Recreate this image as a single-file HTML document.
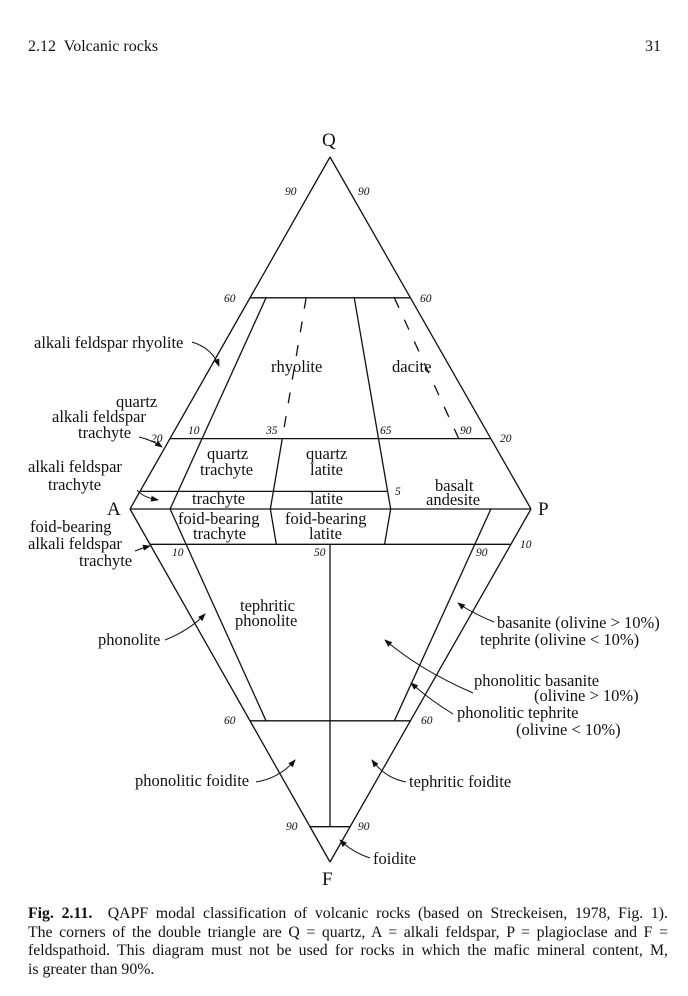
<!DOCTYPE html>
<html><head><meta charset="utf-8"><style>
html,body{margin:0;padding:0;background:#fff;}
body{width:688px;height:996px;position:relative;overflow:hidden;font-family:"Liberation Serif",serif;color:#111;}
.hd{position:absolute;top:38px;font-size:16px;}
.cap{position:absolute;left:28px;top:905px;width:640px;font-size:15.8px;line-height:18.7px;}
.cap div{text-align:justify;text-align-last:justify;white-space:nowrap;}
.cap div.last{text-align-last:left;}
svg text{font-family:"Liberation Serif",serif;}
</style></head><body>
<div class="hd" style="left:28px">2.12&nbsp; Volcanic rocks</div>
<div class="hd" style="right:27px">31</div>
<svg width="688" height="996" style="position:absolute;left:0;top:0">
<defs><marker id="ah" markerWidth="8" markerHeight="8" refX="7" refY="4" orient="auto"><path d="M0,1 L8,4 L0,7 z" fill="#111"/></marker></defs>
<g id="lines" stroke="#111" stroke-width="1.3" fill="none"></g>
<g id="labels" font-size="16.5" fill="#111"></g>
<g id="ticks" font-size="11.5" font-style="italic" fill="#111"></g>
<g id="arrows" stroke="#111" stroke-width="1" fill="none"></g>
</svg>
<div class="cap">
<div><b>Fig. 2.11.</b>&nbsp; QAPF modal classification of volcanic rocks (based on Streckeisen, 1978, Fig. 1).</div>
<div>The corners of the double triangle are Q = quartz, A = alkali feldspar, P = plagioclase and F =</div>
<div>feldspathoid. This diagram must not be used for rocks in which the mafic mineral content, M,</div>
<div class="last">is greater than 90%.</div>
</div>
<script>
// boundary values (percent)
const qLevels=[60,20,5];
const fLevels=[10,60,90];
const apRatios=[10,35,65,90];
const Q=[330,157],A=[130,509],P=[531,509],F=[330,862];
const NS='http://www.w3.org/2000/svg';
function yQ(q){return A[1]-(A[1]-Q[1])*q/100;}
function yF(f){return A[1]+(F[1]-A[1])*f/100;}
function halfW(y){const top=y<A[1];const d=top?(y-Q[1])/(A[1]-Q[1]):(F[1]-y)/(F[1]-A[1]);return d*(P[0]-A[0])/2;}
function apX(r){return A[0]+(P[0]-A[0])*r/100;}
function toQ(r,y){const x0=apX(r);return x0+(Q[0]-x0)*(A[1]-y)/(A[1]-Q[1]);}
function toF(r,y){const x0=apX(r);return x0+(F[0]-x0)*(y-A[1])/(F[1]-A[1]);}
const gl=document.getElementById('lines');
function line(x1,y1,x2,y2,name,dash){const l=document.createElementNS(NS,'line');
l.setAttribute('x1',x1);l.setAttribute('y1',y1);l.setAttribute('x2',x2);l.setAttribute('y2',y2);
if(dash)l.setAttribute('stroke-dasharray',dash);


gl.appendChild(l);}
line(Q[0],Q[1],A[0],A[1],'edge-qa');line(Q[0],Q[1],P[0],P[1],'edge-qp');
line(A[0],A[1],F[0],F[1],'edge-af');line(P[0],P[1],F[0],F[1],'edge-pf');
line(A[0],A[1],P[0],P[1],'edge-ap');
const y60=yQ(qLevels[0]),y20=yQ(qLevels[1]),y5=yQ(qLevels[2]);
line(Q[0]-halfW(y60),y60,Q[0]+halfW(y60),y60,'q60-line');
line(Q[0]-halfW(y20),y20,Q[0]+halfW(y20),y20,'q20-line');
line(Q[0]-halfW(y5),y5,toQ(apRatios[2],y5),y5,'q5-line');
const f10=yF(fLevels[0]),f60=yF(fLevels[1]),f90=yF(fLevels[2]);
line(Q[0]-halfW(f10),f10,Q[0]+halfW(f10),f10,'f10-line');
line(Q[0]-halfW(f60),f60,Q[0]+halfW(f60),f60,'f60-line');
line(Q[0]-halfW(f90),f90,Q[0]+halfW(f90),f90,'f90-line');
line(toQ(apRatios[0],y60),y60,apX(apRatios[0]),A[1],'ap10-upper');
line(toQ(apRatios[1],y60),y60,toQ(apRatios[1],y20),y20,'ap35-dashed','11,13');
line(toQ(apRatios[1],y20),y20,apX(apRatios[1]),A[1],'ap35-upper');
line(toQ(apRatios[2],y60),y60,apX(apRatios[2]),A[1],'ap65-upper');
line(toQ(apRatios[3],y60),y60,toQ(apRatios[3],y20),y20,'ap90-dashed','11,13');
line(apX(apRatios[0]),A[1],toF(apRatios[0],f60),f60,'ap10-lower');
line(apX(apRatios[1]),A[1],toF(apRatios[1],f10),f10,'ap35-lower');
line(apX(apRatios[2]),A[1],toF(apRatios[2],f10),f10,'ap65-lower');
line(apX(apRatios[3]),A[1],toF(apRatios[3],f60),f60,'ap90-lower');
line(F[0],f10,F[0],f90,'ap50-lower');
const labels=[
['Q',322,146,'corner-q',19],['A',107,515,'corner-a',19],['P',538,515,'corner-p',19],['F',322,885,'corner-f',19],
['rhyolite',271,372,'label-rhyolite'],['dacite',392,372,'label-dacite'],
['quartz',207,459,'label-quartz-trachyte'],['trachyte',200,475,'label-quartz-trachyte-2'],
['quartz',306,459,'label-quartz-latite'],['latite',310,475,'label-quartz-latite-2'],
['basalt',435,491,'label-basalt'],['andesite',426,505,'label-andesite'],
['trachyte',192,504,'label-trachyte'],['latite',310,504,'label-latite'],
['foid-bearing',178,524,'label-foid-trachyte'],['trachyte',193,539,'label-foid-trachyte-2'],
['foid-bearing',285,524,'label-foid-latite'],['latite',309,539,'label-foid-latite-2'],
['tephritic',240,611,'label-tephritic-phonolite'],['phonolite',235,626,'label-tephritic-phonolite-2'],
['alkali feldspar rhyolite',34,348,'label-af-rhyolite'],
['quartz',116,407,'label-q-af-trachyte'],['alkali feldspar',52,422,'label-q-af-trachyte-2'],['trachyte',78,438,'label-q-af-trachyte-3'],
['alkali feldspar',28,472,'label-af-trachyte'],['trachyte',48,490,'label-af-trachyte-2'],
['foid-bearing',30,532,'label-foid-af-trachyte'],['alkali feldspar',28,549,'label-foid-af-trachyte-2'],['trachyte',79,566,'label-foid-af-trachyte-3'],
['phonolite',98,645,'label-phonolite'],
['basanite (olivine > 10%)',497,628,'label-basanite'],['tephrite (olivine < 10%)',480,645,'label-tephrite'],
['phonolitic basanite',474,686,'label-ph-basanite'],['(olivine > 10%)',534,701,'label-ph-basanite-2'],
['phonolitic tephrite',457,718,'label-ph-tephrite'],['(olivine < 10%)',516,735,'label-ph-tephrite-2'],
['phonolitic foidite',135,786,'label-ph-foidite'],['tephritic foidite',409,787,'label-teph-foidite'],
['foidite',373,864,'label-foidite']];
const gt=document.getElementById('labels');
labels.forEach(l=>{const t=document.createElementNS(NS,'text');t.setAttribute('x',l[1]);t.setAttribute('y',l[2]);
if(l[4])t.setAttribute('font-size',l[4]);t.textContent=l[0];


gt.appendChild(t);});
const ticks=[['90',285,195],['90',358,195],['60',224,302],['60',420,302],['20',151,442],['10',188,434],['35',266,434],['65',380,434],['90',460,434],['20',500,442],['5',395,495],['10',172,556],['50',314,556],['90',476,556],['10',520,548],['60',224,724],['60',421,724],['90',286,830],['90',358,830]];
const gk=document.getElementById('ticks');
ticks.forEach(l=>{const t=document.createElementNS(NS,'text');t.setAttribute('x',l[1]);t.setAttribute('y',l[2]);t.textContent=l[0];


gk.appendChild(t);});
const arrows=['M192,342 Q212,348 219,366','M139,437 Q152,440 162,447','M137,490 Q142,497 158,500','M135,551 Q142,548 150,546','M165,640 Q190,630 205,614','M494,622 Q470,612 458,603','M473,693 Q420,670 385,640','M453,714 Q430,700 411,683','M256,782 Q280,778 295,760','M406,782 Q385,778 372,760','M370,858 Q352,852 340,840'];
const ga=document.getElementById('arrows');
arrows.forEach((d,i)=>{const p=document.createElementNS(NS,'path');p.setAttribute('d',d);p.setAttribute('marker-end','url(#ah)');


ga.appendChild(p);});
</script>
</body></html>
